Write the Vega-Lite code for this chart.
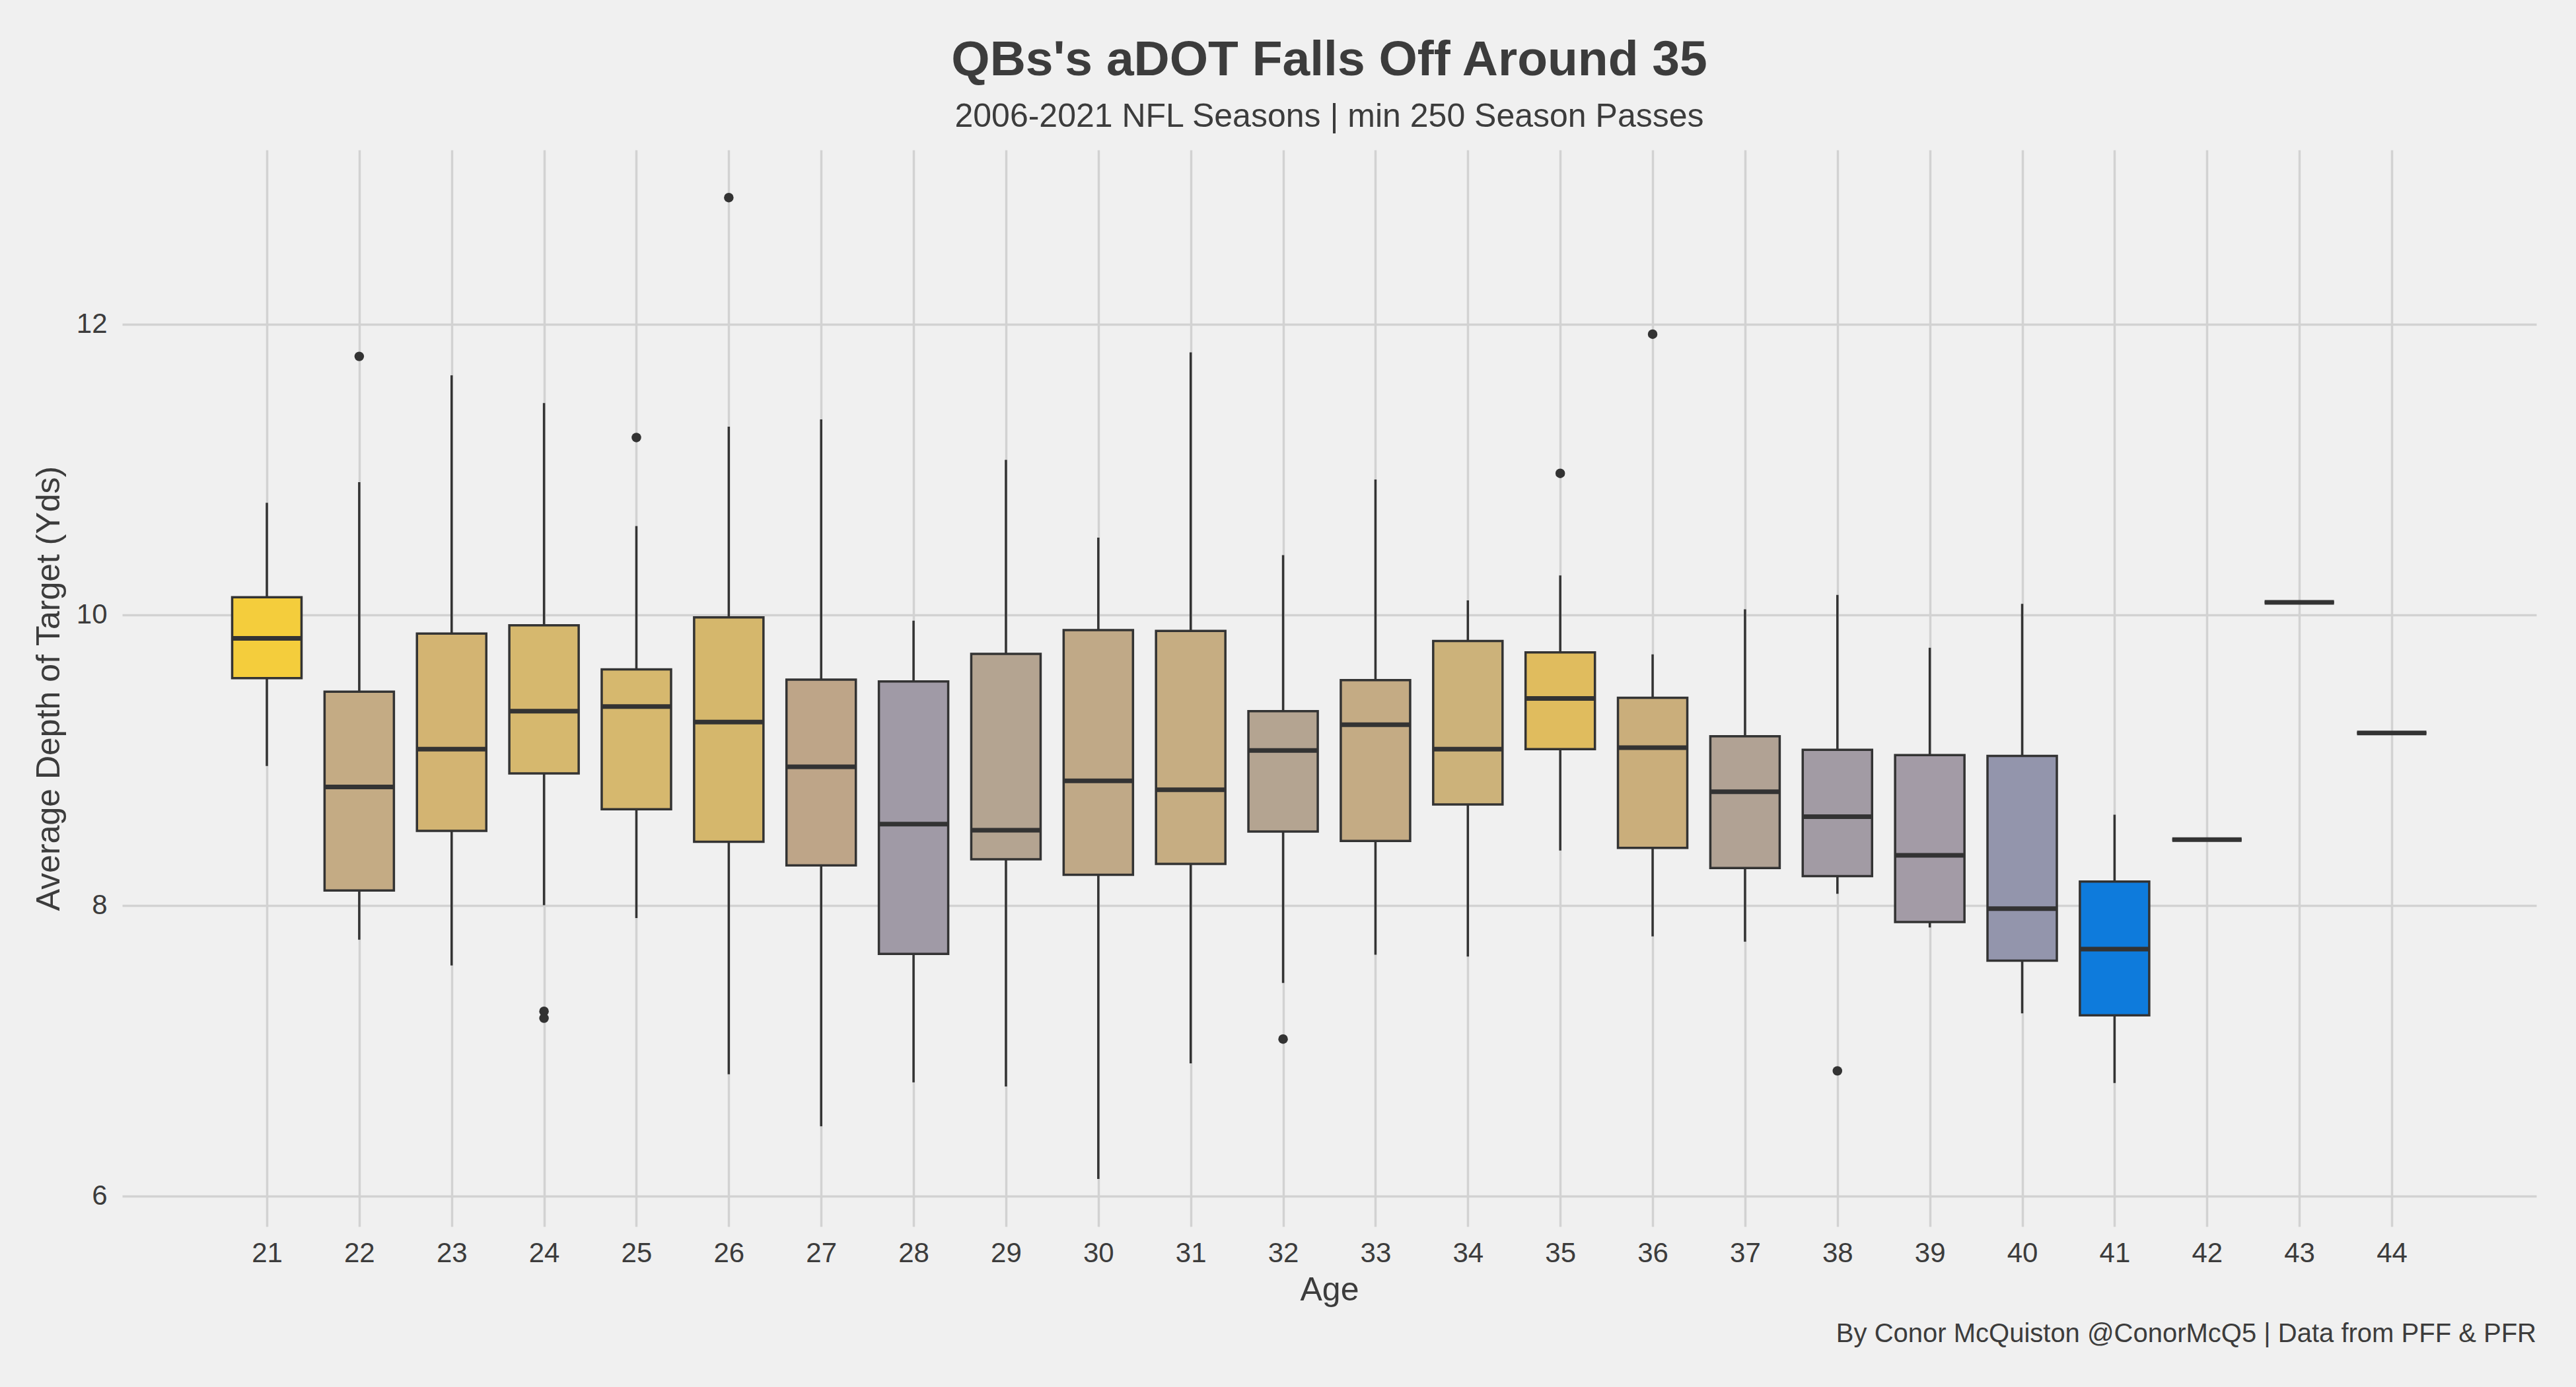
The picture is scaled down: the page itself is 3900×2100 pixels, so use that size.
{
  "$schema": "https://vega.github.io/schema/vega-lite/v6.json",
  "width": 3655,
  "height": 1630,
  "autosize": {"type": "none"},
  "padding": {"left": 185, "top": 227, "right": 60, "bottom": 243},
  "background": "#f0f0f0",
  "title": {
    "text": "QBs's aDOT Falls Off Around 35",
    "subtitle": "2006-2021 NFL Seasons | min 250 Season Passes",
    "anchor": "middle",
    "frame": "group",
    "font": "Liberation Sans",
    "fontSize": 75,
    "fontWeight": "bold",
    "color": "#3c3c3c",
    "subtitleFont": "Liberation Sans",
    "subtitleFontSize": 50,
    "subtitleColor": "#3c3c3c",
    "subtitlePadding": 22,
    "offset": 24
  },
  "datasets": {
    "stats": [
      {"age": 21, "lower": 8.958, "q1": 9.563, "median": 9.837, "q3": 10.12, "upper": 10.77},
      {"age": 22, "lower": 7.763, "q1": 8.102, "median": 8.814, "q3": 9.47, "upper": 10.912},
      {"age": 23, "lower": 7.586, "q1": 8.512, "median": 9.074, "q3": 9.87, "upper": 11.647},
      {"age": 24, "lower": 8.0, "q1": 8.907, "median": 9.335, "q3": 9.926, "upper": 11.456},
      {"age": 25, "lower": 7.912, "q1": 8.66, "median": 9.367, "q3": 9.623, "upper": 10.609},
      {"age": 26, "lower": 6.837, "q1": 8.437, "median": 9.26, "q3": 9.981, "upper": 11.293},
      {"age": 27, "lower": 6.479, "q1": 8.274, "median": 8.953, "q3": 9.553, "upper": 11.344},
      {"age": 28, "lower": 6.781, "q1": 7.665, "median": 8.558, "q3": 9.54, "upper": 9.958},
      {"age": 29, "lower": 6.753, "q1": 8.316, "median": 8.516, "q3": 9.73, "upper": 11.065},
      {"age": 30, "lower": 6.116, "q1": 8.209, "median": 8.856, "q3": 9.893, "upper": 10.53},
      {"age": 31, "lower": 6.912, "q1": 8.284, "median": 8.795, "q3": 9.888, "upper": 11.805},
      {"age": 32, "lower": 7.465, "q1": 8.507, "median": 9.065, "q3": 9.335, "upper": 10.409},
      {"age": 33, "lower": 7.66, "q1": 8.442, "median": 9.242, "q3": 9.549, "upper": 10.93},
      {"age": 34, "lower": 7.647, "q1": 8.693, "median": 9.074, "q3": 9.819, "upper": 10.098},
      {"age": 35, "lower": 8.377, "q1": 9.074, "median": 9.423, "q3": 9.74, "upper": 10.27},
      {"age": 36, "lower": 7.786, "q1": 8.395, "median": 9.084, "q3": 9.428, "upper": 9.726},
      {"age": 37, "lower": 7.749, "q1": 8.256, "median": 8.781, "q3": 9.163, "upper": 10.037},
      {"age": 38, "lower": 8.079, "q1": 8.2, "median": 8.609, "q3": 9.07, "upper": 10.135},
      {"age": 39, "lower": 7.847, "q1": 7.884, "median": 8.344, "q3": 9.033, "upper": 9.772},
      {"age": 40, "lower": 7.256, "q1": 7.619, "median": 7.977, "q3": 9.028, "upper": 10.074},
      {"age": 41, "lower": 6.777, "q1": 7.242, "median": 7.698, "q3": 8.163, "upper": 8.623},
      {"age": 42, "lower": 8.451, "q1": 8.451, "median": 8.451, "q3": 8.451, "upper": 8.451},
      {"age": 43, "lower": 10.084, "q1": 10.084, "median": 10.084, "q3": 10.084, "upper": 10.084},
      {"age": 44, "lower": 9.186, "q1": 9.186, "median": 9.186, "q3": 9.186, "upper": 9.186}
    ],
    "outliers": [
      {"age": 22, "value": 11.777},
      {"age": 24, "value": 7.27},
      {"age": 24, "value": 7.223},
      {"age": 25, "value": 11.219},
      {"age": 26, "value": 12.87},
      {"age": 32, "value": 7.079},
      {"age": 35, "value": 10.972},
      {"age": 36, "value": 11.93},
      {"age": 38, "value": 6.86}
    ]
  },
  "layer": [
    {
      "data": {"name": "stats"},
      "mark": {"type": "rule", "color": "#333333", "strokeWidth": 3.5},
      "encoding": {
        "x": {
          "field": "age",
          "type": "quantitative",
          "scale": {"domain": [19.4342, 45.5658], "nice": false, "zero": false, "padding": 0},
          "axis": {
            "title": "Age",
            "values": [21,22,23,24,25,26,27,28,29,30,31,32,33,34,35,36,37,38,39,40,41,42,43,44],
            "format": "d",
            "labelAngle": 0,
            "ticks": false,
            "domain": false,
            "grid": true,
            "gridColor": "#d2d2d2",
            "gridWidth": 3.5,
            "labelFontSize": 42,
            "labelColor": "#3c3c3c",
            "labelPadding": 20,
            "labelFlush": false,
            "titleFontSize": 50,
            "titleFontWeight": "normal",
            "titleColor": "#3c3c3c",
            "titlePadding": 10
          }
        },
        "y": {
          "field": "lower",
          "type": "quantitative",
          "scale": {"domain": [5.789, 13.198], "nice": false, "zero": false, "padding": 0},
          "axis": {
            "title": "Average Depth of Target (Yds)",
            "values": [6, 8, 10, 12],
            "format": "d",
            "ticks": false,
            "domain": false,
            "grid": true,
            "gridColor": "#d2d2d2",
            "gridWidth": 3.5,
            "labelFontSize": 42,
            "labelColor": "#3c3c3c",
            "labelPadding": 23,
            "labelFlush": false,
            "titleFontSize": 50,
            "titleFontWeight": "normal",
            "titleColor": "#3c3c3c",
            "titlePadding": 16
          }
        },
        "y2": {"field": "upper"}
      }
    },
    {
      "data": {"name": "stats"},
      "mark": {"type": "bar", "stroke": "#333333", "strokeWidth": 3.5, "size": 105},
      "encoding": {
        "x": {"field": "age", "type": "quantitative"},
        "y": {"field": "q1", "type": "quantitative"},
        "y2": {"field": "q3"},
        "fill": {
          "field": "age",
          "type": "ordinal",
          "scale": {
            "domain": [21,22,23,24,25,26,27,28,29,30,31,32,33,34,35,36,37,38,39,40,41,42,43,44],
            "range": ["#f4cd3c","#c4ab84","#d3b472","#d6b86e","#d6b86e","#d5b76c","#bea588","#a09aa6","#b4a491","#c0a987","#c6ad82","#b4a491","#c4ab84","#ccb27a","#e0bc5e","#caae7b","#b1a294","#a29ba4","#a39ba6","#9395ac","#0e7bdc","#b8a58e","#e8c350","#d0b270"]
          },
          "legend": null
        }
      }
    },
    {
      "data": {"name": "stats"},
      "mark": {"type": "tick", "orient": "horizontal", "color": "#333333", "thickness": 7, "size": 105, "opacity": 1},
      "encoding": {
        "x": {"field": "age", "type": "quantitative"},
        "y": {"field": "median", "type": "quantitative"}
      }
    },
    {
      "data": {"name": "outliers"},
      "mark": {"type": "point", "filled": true, "color": "#333333", "size": 210, "opacity": 1},
      "encoding": {
        "x": {"field": "age", "type": "quantitative"},
        "y": {"field": "value", "type": "quantitative"}
      }
    },
    {
      "data": {"values": [{"caption": "By Conor McQuiston @ConorMcQ5 | Data from PFF & PFR"}]},
      "mark": {"type": "text", "x": {"expr": "width"}, "y": {"expr": "height + 175"}, "align": "right", "baseline": "alphabetic", "fontSize": 40, "color": "#3c3c3c", "font": "Liberation Sans"},
      "encoding": {"text": {"field": "caption", "type": "nominal"}}
    }
  ],
  "config": {
    "font": "Liberation Sans",
    "view": {"stroke": null, "fill": "#f0f0f0"}
  }
}
